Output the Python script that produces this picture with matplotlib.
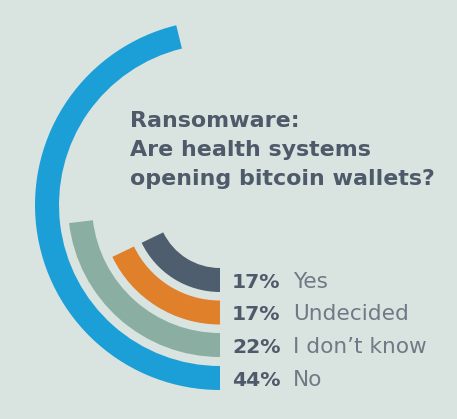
import numpy as np
import matplotlib
matplotlib.use("Agg")
import matplotlib.pyplot as plt

# survey answers, innermost ring first
answers = ["Yes", "Undecided", "I don\u2019t know", "No"]
shares = [17, 17, 22, 44]
colors = ["#4f5e6f", "#e0802a", "#8baea3", "#1c9fd7"]

title_lines = ["Ransomware:", "Are health systems", "opening bitcoin wallets?"]

W, H = 457, 419
bg = "#d9e4e0"
cx, cy = 220, 205          # ring centre in pixels (from top-left)
R = 200                    # polar axes radius in pixels
ring_w = 24
outer = [87, 119.5, 152, 185]
deg_per_pct = 3.78

fig = plt.figure(figsize=(W / 100, H / 100), dpi=100, facecolor=bg)

# overlay axes in pixel coords for the text
tx = fig.add_axes([0, 0, 1, 1])
tx.set_xlim(0, W)
tx.set_ylim(H, 0)
tx.axis("off")

ax = fig.add_axes([(cx - R) / W, (H - cy - R) / H, 2 * R / W, 2 * R / H],
                  projection="polar")
ax.set_theta_zero_location("S")
ax.set_theta_direction(-1)
ax.set_ylim(0, R)
ax.axis("off")
ax.patch.set_alpha(0)

theta = np.radians(np.array(shares) * deg_per_pct)
inner = [o - ring_w for o in outer]
for t, b, c in zip(theta, inner, colors):
    ax.bar(0, ring_w, width=t, bottom=b, color=c, align="edge", linewidth=0)

dark = "#4e5a69"
for i, line in enumerate(title_lines):
    tx.text(130, 127 + 29 * i, line, fontsize=15.9, fontweight="bold",
            color=dark, family="DejaVu Sans", va="baseline")

for name, v, o in zip(answers, shares, outer):
    yb = cy + o - ring_w / 2 + 7.5
    tx.text(232, yb, f"{v}%", fontsize=14.6, fontweight="bold", color=dark,
            family="DejaVu Sans", va="baseline")
    tx.text(293, yb, name, fontsize=15.6, color="#707a86",
            family="DejaVu Sans", va="baseline")

fig.savefig("out.png", dpi=100, facecolor=bg)
